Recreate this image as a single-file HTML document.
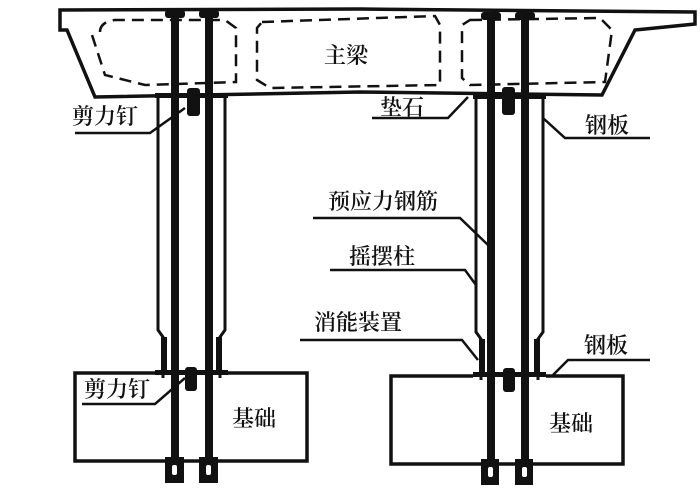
<!DOCTYPE html>
<html><head><meta charset="utf-8"><style>
body{margin:0;background:#fff}
svg{display:block}
text{font-family:"Liberation Serif","Noto Serif CJK SC",serif;font-size:22px;font-weight:600;fill:#111}
</style></head><body>
<svg width="700" height="489" viewBox="0 0 700 489" xmlns="http://www.w3.org/2000/svg">
<g fill="none" stroke="#111" stroke-width="3.5">
<path d="M60 10 L360 9 L695 12 L695 24 L635 30 L602 95 L360 92 L95 97 L67 30 L60 30 Z"/>
</g>
<g fill="none" stroke="#111" stroke-width="2.5" stroke-dasharray="12 7">
<path d="M100 32 Q100 22 115 20 L225 20 L236 28 L236 82 L145 85 L105 75 L92 35"/>
<path d="M262 22 L435 16 L440 25 L440 85 L270 88 L257 80 L257 28 Z"/>
<path d="M470 20 L600 18 L612 30 L605 82 L470 85 L462 78 L462 25 Z"/>
</g>
<g fill="none" stroke="#111" stroke-width="3.5">
<rect x="75" y="373" width="232" height="88"/>
<rect x="391" y="376" width="232" height="88"/>
</g>
<g fill="#fff" stroke="none">
<rect x="156" y="370" width="72" height="8"/>
<rect x="473" y="372" width="73" height="8"/>
</g>
<g stroke="#111" stroke-width="3" fill="none">
<path d="M158 97 L158 330 L163 337 L163 378"/>
<path d="M225 97 L225 330 L220 337 L220 378"/>
<path d="M476 97 L476 332 L481 339 L481 380"/>
<path d="M543 97 L543 332 L538 339 L538 380"/>
</g>
<g fill="#111">
<rect x="161" y="337" width="6" height="38"/>
<rect x="216" y="337" width="6" height="38"/>
<rect x="479" y="339" width="6" height="38"/>
<rect x="534" y="339" width="6" height="38"/>
<rect x="171" y="12" width="8" height="452"/>
<rect x="205" y="12" width="8" height="452"/>
<rect x="487" y="14" width="8" height="452"/>
<rect x="521" y="14" width="8" height="452"/>
<rect x="165" y="10" width="20" height="8" rx="3"/>
<rect x="199" y="10" width="20" height="8" rx="3"/>
<rect x="481" y="12" width="20" height="8" rx="3"/>
<rect x="515" y="12" width="20" height="8" rx="3"/>
<rect x="165" y="457" width="19" height="26"/>
<rect x="199" y="457" width="19" height="26"/>
<rect x="481" y="459" width="18" height="26"/>
<rect x="515" y="459" width="18" height="26"/>
<rect x="155" y="93" width="73" height="5"/>
<rect x="187" y="88" width="13" height="28" rx="3"/>
<rect x="473" y="94" width="73" height="5"/>
<rect x="502" y="87" width="13" height="28" rx="3"/>
<rect x="155" y="370" width="73" height="5"/>
<rect x="185" y="367" width="12" height="24" rx="3"/>
<rect x="473" y="372" width="73" height="5"/>
<rect x="503" y="368" width="12" height="24" rx="3"/>
</g>
<g fill="#fff">
<rect x="172" y="465" width="5" height="10" rx="2"/>
<rect x="206" y="465" width="5" height="10" rx="2"/>
<rect x="488" y="467" width="5" height="10" rx="2"/>
<rect x="522" y="467" width="5" height="10" rx="2"/>
</g>
<g fill="none" stroke="#111" stroke-width="2.5">
<path d="M75 133 L150 133 L185 108"/>
<path d="M372 118 L448 118 L468 97"/>
<path d="M543 118 L565 138 L650 138"/>
<path d="M313 218 L460 218 L488 245"/>
<path d="M330 270 L465 270 L476 285"/>
<path d="M300 340 L462 340 L478 360"/>
<path d="M553 375 L568 360 L650 360"/>
<path d="M82 404 L155 404 L185 378"/>
</g>
<g>
<text x="324" y="63">主梁</text>
<text x="72" y="124">剪力钉</text>
<text x="380" y="115">垫石</text>
<text x="585" y="133">钢板</text>
<text x="328" y="209">预应力钢筋</text>
<text x="349" y="264">摇摆柱</text>
<text x="314" y="330">消能装置</text>
<text x="584" y="353">钢板</text>
<text x="84" y="397">剪力钉</text>
<text x="232" y="426">基础</text>
<text x="549" y="431">基础</text>
</g>
</svg>
</body></html>
